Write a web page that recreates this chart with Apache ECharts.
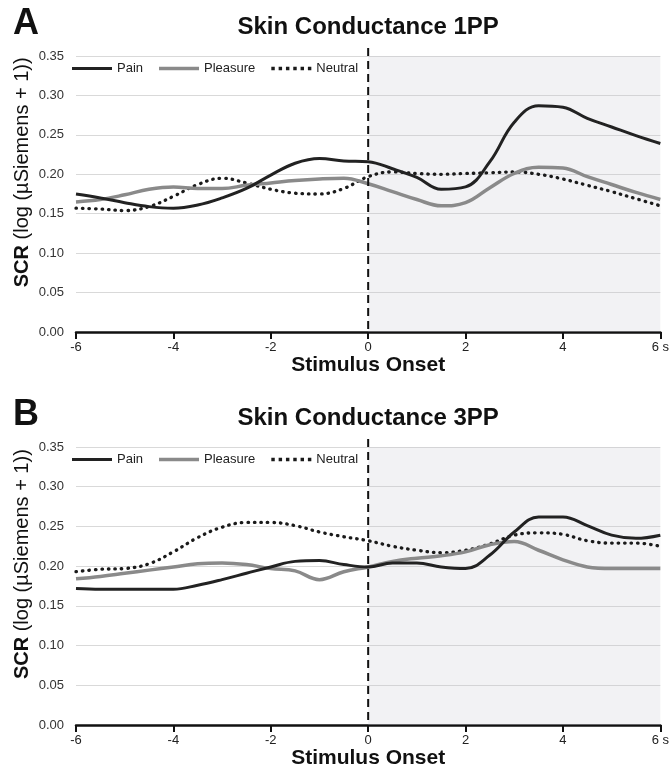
<!DOCTYPE html>
<html><head><meta charset="utf-8">
<script src="https://cdn.jsdelivr.net/npm/echarts@6/dist/echarts.min.js"></script>
<style>html,body{margin:0;padding:0;background:#fff}#c{width:672px;height:779px}</style>
</head><body><div id="c"></div>
<script>
// ---- data ----
const times = [-6,-5.5,-5,-4.5,-4,-3.5,-3,-2.5,-2,-1.5,-1,-0.5,0,0.5,1,1.5,2,2.5,3,3.5,4,4.5,5,5.5,6];
const painA     = [0.175,0.170,0.164,0.159,0.157,0.161,0.170,0.182,0.199,0.214,0.220,0.217,0.216,0.207,0.196,0.181,0.184,0.216,0.266,0.287,0.285,0.271,0.260,0.249,0.239];
const pleasureA = [0.165,0.168,0.174,0.181,0.184,0.182,0.182,0.186,0.189,0.192,0.194,0.195,0.188,0.178,0.168,0.160,0.164,0.183,0.201,0.209,0.208,0.197,0.187,0.177,0.168];
const neutralA  = [0.157,0.156,0.154,0.159,0.172,0.187,0.195,0.189,0.181,0.176,0.175,0.182,0.197,0.203,0.201,0.200,0.201,0.202,0.203,0.200,0.194,0.186,0.178,0.169,0.160];
const painB     = [0.172,0.171,0.171,0.171,0.171,0.176,0.183,0.191,0.199,0.206,0.207,0.202,0.199,0.204,0.204,0.199,0.197,0.214,0.243,0.262,0.262,0.251,0.239,0.235,0.239];
const pleasureB = [0.184,0.187,0.191,0.195,0.199,0.203,0.204,0.202,0.197,0.194,0.183,0.193,0.199,0.206,0.210,0.213,0.218,0.227,0.231,0.220,0.208,0.199,0.197,0.197,0.197];
const neutralB  = [0.193,0.196,0.197,0.203,0.218,0.236,0.249,0.255,0.255,0.251,0.243,0.237,0.232,0.225,0.220,0.217,0.220,0.228,0.239,0.242,0.240,0.232,0.229,0.229,0.225];
const seriesNames = ['Pain','Pleasure','Neutral'];
const panelLetters = ['A','B'];
const panelTitles = ['Skin Conductance 1PP','Skin Conductance 3PP'];
const xMin = -6, xMax = 6, xStep = 2, xUnit = ' s';
const yMin = 0, yMax = 0.35, yStep = 0.05;
const xName = 'Stimulus Onset';
const yNameBold = 'SCR', yNameRest = '(log (µSiemens + 1))';
const stimStart = 0, stimEnd = 6;

const FONT = '"Liberation Sans", Arial, Helvetica, sans-serif';
const panels = [[painA, pleasureA, neutralA],[painB, pleasureB, neutralB]];
const styles = [
  {color:'#222222', width:3, type:'solid', cap:'butt'},
  {color:'#8a8a8a', width:3.5, type:'solid', cap:'butt'},
  {color:'#1a1a1a', width:3.3, type:[0.5,6], cap:'round'}
];
// legend glyphs (shape only; drawn by the legend)
const dotPath = 'path://' + [0,1,2,3,4,5].map(i=>'M'+(i*6.8)+',0h3.2v3.2h-3.2z').join('');
const legendIcons = ['path://M0,0h40v3.2h-40z','path://M0,0h40v3.6h-40z', dotPath];
const gridsLayout = [{left:76,right:10,top:56,height:276},{left:76,right:10,top:447,height:278}];

const chart = echarts.init(document.getElementById('c'), null, {renderer:'canvas'});
const grid = [], xAxis = [], yAxis = [], series = [], legend = [];
gridsLayout.forEach((g,i)=>{
  grid.push(Object.assign({containLabel:false}, g));
  xAxis.push({
    type:'value', gridIndex:i, min:xMin, max:xMax, interval:xStep,
    axisLine:{show:true, onZero:false, lineStyle:{color:'#111', width:2.5}},
    axisTick:{show:true, length:7, lineStyle:{color:'#111', width:2}},
    axisLabel:{fontSize:13, color:'#222', margin:9, fontFamily:FONT,
      formatter:v => v === xMax ? v + xUnit : String(v)},
    splitLine:{show:false},
    name:xName, nameLocation:'middle', nameGap:21,
    nameTextStyle:{fontSize:21, fontWeight:'bold', color:'#111', fontFamily:FONT}
  });
  yAxis.push({
    type:'value', gridIndex:i, min:yMin, max:yMax, interval:yStep,
    axisLine:{show:false}, axisTick:{show:false},
    axisLabel:{fontSize:13, color:'#333', margin:12, fontFamily:FONT, formatter:v=>v.toFixed(2)},
    splitLine:{show:true, lineStyle:{color:'#d9d9d9', width:1}}
  });
  panels[i].forEach((arr,k)=>{
    const s = {
      name:seriesNames[k], type:'line', xAxisIndex:i, yAxisIndex:i,
      data: times.map((t,j)=>[t, arr[j]]),
      smooth:0.4, symbol:'none', silent:true,
      lineStyle:{color:styles[k].color, width:styles[k].width, type:styles[k].type, cap:styles[k].cap},
      itemStyle:{color:styles[k].color},
      z: 3 + (k===0?2:(k===1?1:0))
    };
    if (k===0) {
      s.markArea = {silent:true, itemStyle:{color:'rgba(195,195,205,0.22)'},
        data:[[{xAxis:stimStart, yAxis:yMin},{xAxis:stimEnd, yAxis:yMax}]]};
    }
    series.push(s);
  });
  legend.push({
    left:g.left-9, top:g.top+1, itemWidth:40, itemHeight:14, itemGap:16,
    symbolKeepAspect:true,
    textStyle:{fontSize:13, color:'#222', fontFamily:FONT},
    data:seriesNames.map((n,k)=>({name:n, icon:legendIcons[k], itemStyle:{color:styles[k].color, borderWidth:0}})),
    selectedMode:false
  });
});

chart.setOption({animation:false, backgroundColor:'#fff', textStyle:{fontFamily:FONT},
  grid, xAxis, yAxis, series, legend});

// annotations placed via the library's own scales
const graphics = [];
[0,1].forEach(i=>{
  const pTop = chart.convertToPixel({gridIndex:i}, [stimStart, yMax]);
  const pBot = chart.convertToPixel({gridIndex:i}, [stimStart, yMin]);
  const pMid = chart.convertToPixel({gridIndex:i}, [stimStart, 0.2]);
  graphics.push({type:'line', z:50, silent:true,
    shape:{x1:pTop[0], y1:pTop[1]-8, x2:pBot[0], y2:pBot[1]},
    style:{stroke:'#111', lineWidth:2, lineDash:[8,5]}});
  graphics.push({type:'text', z:50, x:pTop[0], y:pTop[1]-29,
    style:{text:panelTitles[i], font:'bold 24px '+FONT, fill:'#111', align:'center', verticalAlign:'middle'}});
  graphics.push({type:'text', z:50, x:26, y:pTop[1]-32,
    style:{text:panelLetters[i], font:'bold 36px '+FONT, fill:'#111', align:'center', verticalAlign:'middle'}});
  graphics.push({type:'text', z:50, x:22, y:pMid[1]-2, rotation:Math.PI/2,
    style:{text:'{b|'+yNameBold+'} {n|'+yNameRest+'}', align:'center', verticalAlign:'middle',
      font:'20px '+FONT, fill:'#111',
      rich:{b:{fontWeight:'bold', fontSize:20, fontFamily:FONT, fill:'#111'}, n:{fontSize:20, fontFamily:FONT, fill:'#111'}}}});
});
chart.setOption({graphic:graphics});
</script></body></html>
